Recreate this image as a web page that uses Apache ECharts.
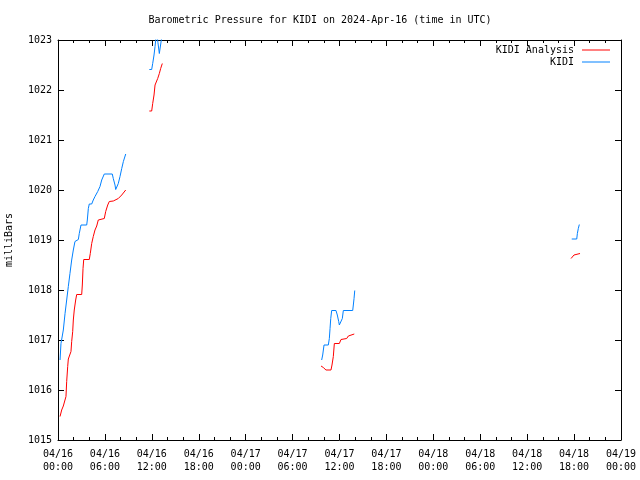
<!DOCTYPE html>
<html>
<head>
<meta charset="utf-8">
<script src="https://cdn.jsdelivr.net/npm/echarts@6/dist/echarts.min.js"></script>
<style>html,body{margin:0;padding:0;background:#fff}#c{width:640px;height:480px}</style>
</head>
<body>
<div id="c"></div>
<script>
// Hours since 2024-04-16 00:00 UTC; null value marks a gap
var kidiHours = [0.26,0.38,0.55,0.68,0.9,1.11,1.32,1.53,1.75,1.96,2.17,2.3,2.6,2.72,2.94,3.67,3.75,3.88,4.0,4.31,4.51,4.73,5.08,5.37,5.59,5.92,6.94,7.07,7.29,7.38,7.58,7.71,7.93,8.15,8.36,8.66,
  10,
  11.68,11.98,12.11,12.28,12.41,12.53,12.65,12.78,12.96,13.1,13.26,13.4,
  20,
  33.72,33.85,34.02,34.57,34.7,34.79,34.88,35.0,35.55,35.72,35.9,35.98,36.19,36.36,36.49,37.69,37.77,37.86,37.95,
  50,
  65.70,66.34,66.42,66.54,66.67];
var kidiValues = [1016.6,1016.93,1016.97,1017.2,1017.53,1017.8,1018.07,1018.33,1018.6,1018.8,1018.97,1019.01,1019.01,1019.13,1019.3,1019.3,1019.4,1019.63,1019.72,1019.72,1019.8,1019.87,1019.97,1020.07,1020.2,1020.32,1020.32,1020.23,1020.1,1020.01,1020.01,1020.13,1020.27,1020.43,1020.57,1020.72,
  null,
  1022.41,1022.41,1022.53,1022.7,1022.87,1023.05,1023.15,1022.95,1022.73,1022.88,1023.05,1023.2,
  null,
  1016.6,1016.7,1016.9,1016.9,1017.03,1017.23,1017.43,1017.59,1017.59,1017.5,1017.37,1017.3,1017.3,1017.43,1017.59,1017.59,1017.7,1017.83,1017.99,
  null,
  1019.02,1019.02,1019.13,1019.23,1019.31];

var analysisHours = [0.26,0.47,0.68,0.9,1.02,1.11,1.24,1.32,1.53,1.66,1.75,1.88,1.96,2.08,2.26,2.39,3.03,3.11,3.2,3.29,4.0,4.13,4.31,4.51,4.73,4.95,5.15,5.28,5.92,6.1,6.36,6.56,7.07,7.29,7.71,8.15,8.66,
  10,
  11.68,11.98,12.11,12.28,12.41,12.62,12.75,12.96,13.13,13.34,
  20,
  33.64,33.93,34.27,34.91,35.04,35.21,35.34,35.98,36.19,36.92,37.13,37.26,37.89,
  50,
  65.61,65.83,65.99,66.21,66.76];
var analysisValues = [1015.47,1015.6,1015.68,1015.68,1015.87,1016.17,1016.47,1016.62,1016.62,1016.77,1016.97,1017.17,1017.4,1017.6,1017.8,1017.91,1017.91,1018.1,1018.43,1018.61,1018.61,1018.73,1018.93,1019.07,1019.2,1019.28,1019.4,1019.43,1019.43,1019.57,1019.7,1019.77,1019.78,1019.81,1019.83,1019.9,1020.0,
  null,
  1021.58,1021.58,1021.73,1021.9,1022.1,1022.1,1022.23,1022.33,1022.43,1022.53,
  null,
  1016.48,1016.45,1016.4,1016.4,1016.5,1016.67,1016.93,1016.93,1017.01,1017.03,1017.08,1017.12,1017.12,
  null,
  1018.63,1018.67,1018.7,1018.73,1018.73];

var seriesNames = ['KIDI Analysis', 'KIDI'];
var titleText = 'Barometric Pressure for KIDI on 2024-Apr-16 (time in UTC)';
var yName = 'milliBars';

function pairs(h, v) {
  return h.map(function (x, i) { return [x, v[i]]; });
}
function pad(n) { return (n < 10 ? '0' : '') + n; }
function fmtHour(h) {
  var day = 16 + Math.floor(h / 24);
  var hh = Math.round(h % 24);
  return '04/' + pad(day) + '\n' + pad(hh) + ':00';
}

var FONT = 'DejaVu Sans Mono';
var chart = echarts.init(document.getElementById('c'), null, { renderer: 'canvas' });
var axisLineStyle = { color: '#000', width: 1 };
chart.setOption({
  animation: false,
  backgroundColor: '#fff',
  textStyle: { fontFamily: FONT, color: '#000' },
  title: {
    text: titleText, left: 'center', top: 10,
    textStyle: { fontFamily: FONT, fontSize: 10, fontWeight: 'normal', color: '#000' }
  },
  legend: {
    orient: 'vertical', right: 25, top: 40, align: 'right',
    itemWidth: 28, itemHeight: 1, itemGap: 2, icon: 'rect',
    textStyle: { fontFamily: FONT, fontSize: 10, color: '#000', padding: [0, 3, 0, 0] },
    data: seriesNames
  },
  grid: { left: 58, right: 19, top: 40, bottom: 40, show: false, containLabel: false, outerBoundsMode: 'none' },
  xAxis: [{
    type: 'value', min: 0, max: 72, interval: 6, position: 'bottom',
    axisLine: { show: true, onZero: false, lineStyle: axisLineStyle },
    axisTick: { show: true, inside: true, length: 6, lineStyle: axisLineStyle },
    minorTick: { show: true, splitNumber: 3, length: 3, lineStyle: axisLineStyle },
    splitLine: { show: false },
    axisLabel: { fontFamily: FONT, fontSize: 10, color: '#000', margin: 8, lineHeight: 13, formatter: fmtHour }
  }, {
    type: 'value', min: 0, max: 72, interval: 6, position: 'top',
    axisLine: { show: true, onZero: false, lineStyle: axisLineStyle },
    axisTick: { show: true, inside: true, length: 6, lineStyle: axisLineStyle },
    minorTick: { show: true, splitNumber: 3, length: 3, lineStyle: axisLineStyle },
    splitLine: { show: false }, axisLabel: { show: false }
  }],
  yAxis: [{
    type: 'value', min: 1015, max: 1023, interval: 1, position: 'left',
    name: yName, nameLocation: 'middle', nameGap: 44, nameRotate: 90,
    nameTextStyle: { fontFamily: FONT, fontSize: 10, color: '#000' },
    axisLine: { show: true, onZero: false, lineStyle: axisLineStyle },
    axisTick: { show: true, inside: true, length: 6, lineStyle: axisLineStyle },
    splitLine: { show: false },
    axisLabel: { fontFamily: FONT, fontSize: 10, color: '#000', margin: 6, formatter: function (v) { return String(v); } }
  }, {
    type: 'value', min: 1015, max: 1023, interval: 1, position: 'right',
    axisLine: { show: true, onZero: false, lineStyle: axisLineStyle },
    axisTick: { show: true, inside: true, length: 6, lineStyle: axisLineStyle },
    splitLine: { show: false }, axisLabel: { show: false }
  }],
  series: [{
    name: seriesNames[0], type: 'line', xAxisIndex: 0, yAxisIndex: 0,
    symbol: 'none', connectNulls: false, clip: true,
    lineStyle: { color: '#ff0000', width: 1 }, itemStyle: { color: '#ff0000' },
    data: pairs(analysisHours, analysisValues)
  }, {
    name: seriesNames[1], type: 'line', xAxisIndex: 0, yAxisIndex: 0,
    symbol: 'none', connectNulls: false, clip: true,
    lineStyle: { color: '#0080ff', width: 1 }, itemStyle: { color: '#0080ff' },
    data: pairs(kidiHours, kidiValues)
  }]
});
</script>
</body>
</html>
